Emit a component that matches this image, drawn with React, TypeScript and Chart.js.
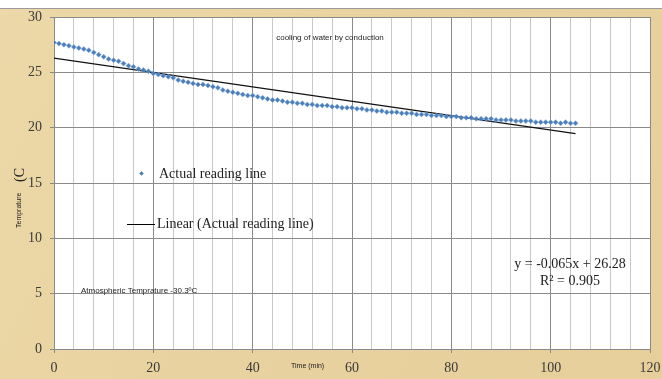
import React, { useEffect, useRef } from "react";
import { Chart, registerables } from "chart.js";

Chart.register(...registerables);

const timeMin: number[] = Array.from({ length: 106 }, (_, i) => i);
const tempC: number[] = [
  27.7, 27.6, 27.5, 27.4, 27.3, 27.2, 27.1, 27.0, 26.8, 26.6,
  26.4, 26.2, 26.1, 26.0, 25.8, 25.6, 25.5, 25.3, 25.2, 25.1,
  24.9, 24.8, 24.7, 24.6, 24.5, 24.3, 24.2, 24.1, 24.0, 23.9,
  23.9, 23.8, 23.7, 23.6, 23.4, 23.3, 23.2, 23.1, 23.0, 22.9,
  22.9, 22.8, 22.7, 22.6, 22.5, 22.5, 22.4, 22.3, 22.3, 22.2,
  22.2, 22.1, 22.1, 22.0, 22.0, 22.0, 21.9, 21.9, 21.8, 21.8,
  21.8, 21.7, 21.7, 21.6, 21.6, 21.5, 21.5, 21.4, 21.4, 21.4,
  21.3, 21.3, 21.3, 21.2, 21.2, 21.2, 21.1, 21.1, 21.1, 21.0,
  21.0, 21.0, 20.9, 20.9, 20.9, 20.8, 20.8, 20.8, 20.8, 20.7,
  20.7, 20.7, 20.7, 20.6, 20.6, 20.6, 20.6, 20.5, 20.5, 20.5,
  20.5, 20.5, 20.4, 20.5, 20.4, 20.4,
];
const trendSlope = -0.065;
const trendIntercept = 26.28;
const trendRange: number[] = [0, 105];
const xTickLabels: number[] = [0, 20, 40, 60, 80, 100, 120];
const yTickLabels: number[] = [0, 5, 10, 15, 20, 25, 30];

const chartTitle = "cooling of water by conduction";
const seriesName = "Actual reading line";
const trendName = "Linear (Actual reading line)";
const equationText = "y = -0.065x + 26.28";
const r2Text = "R\u00b2 = 0.905";
const atmText = "Atmospheric Temprature -30.3\u00baC";
const xTitle = "Time (min)";
const yTitleSmall = "Temprature";
const yTitleBig = "(C";

const BLUE = "#4a7ebb";

const decorPlugin = {
  id: "decor",
  beforeDraw(chart: any) {
    const { ctx, width, height, chartArea } = chart;
    ctx.save();
    const g = ctx.createLinearGradient(0, 0, width, height);
    g.addColorStop(0, "#ecd8a8");
    g.addColorStop(0.5, "#e8d29f");
    g.addColorStop(1, "#e6cf9b");
    ctx.fillStyle = g;
    ctx.fillRect(0, 0, width, height);
    ctx.fillStyle = "#ffffff";
    ctx.fillRect(0, 0, width, 8);
    ctx.strokeStyle = "#9a9a9a";
    ctx.lineWidth = 1;
    ctx.beginPath();
    ctx.moveTo(0, 8.5);
    ctx.lineTo(width, 8.5);
    ctx.stroke();
    ctx.fillStyle = "#ffffff";
    ctx.fillRect(chartArea.left, chartArea.top, chartArea.right - chartArea.left, chartArea.bottom - chartArea.top);
    ctx.restore();
  },
  afterDraw(chart: any) {
    const { ctx } = chart;
    ctx.save();
    ctx.fillStyle = "#222";
    ctx.textBaseline = "middle";
    // title
    ctx.font = '8px "Liberation Sans"';
    ctx.textAlign = "center";
    ctx.fillText(chartTitle, 330, 38);
    // legend
    ctx.fillStyle = BLUE;
    ctx.beginPath();
    const mx = 141.5, my = 173.5, r = 2.3;
    ctx.moveTo(mx, my - r);
    ctx.lineTo(mx + r, my);
    ctx.lineTo(mx, my + r);
    ctx.lineTo(mx - r, my);
    ctx.closePath();
    ctx.fill();
    ctx.fillStyle = "#222";
    ctx.font = '14px "Liberation Serif"';
    ctx.textAlign = "left";
    ctx.fillText(seriesName, 159, 174);
    ctx.strokeStyle = "#000";
    ctx.lineWidth = 1;
    ctx.beginPath();
    ctx.moveTo(127, 224.5);
    ctx.lineTo(155, 224.5);
    ctx.stroke();
    ctx.fillText(trendName, 157, 224);
    // equation
    ctx.textAlign = "center";
    ctx.fillText(equationText, 570, 264);
    ctx.fillText(r2Text, 570, 281);
    // atmospheric
    ctx.textAlign = "left";
    ctx.font = '8px "Liberation Sans"';
    ctx.fillText(atmText, 81, 291);
    // x title
    ctx.font = '7px "Liberation Sans"';
    ctx.fillText(xTitle, 291, 366);
    // y title
    ctx.translate(19, 228);
    ctx.rotate(-Math.PI / 2);
    ctx.font = '7px "Liberation Sans"';
    ctx.fillText(yTitleSmall, 0, 0);
    ctx.font = '14px "Liberation Serif"';
    ctx.fillText(yTitleBig, 46, 1);
    ctx.restore();
  },
};

export default function App() {
  const ref = useRef<HTMLCanvasElement | null>(null);
  useEffect(() => {
    if (!ref.current) return;
    const points = timeMin.map((x, i) => ({ x, y: tempC[i] }));
    const trend = trendRange.map((x) => ({ x, y: trendIntercept + trendSlope * x }));
    const chart = new Chart(ref.current, {
      type: "scatter",
      data: {
        datasets: [
          {
            label: trendName,
            data: trend,
            showLine: true,
            borderColor: "#111",
            borderWidth: 1.2,
            pointRadius: 0,
            order: 2,
          },
          {
            label: seriesName,
            data: points,
            pointStyle: "rectRot",
            pointRadius: 2.5,
            backgroundColor: BLUE,
            borderColor: "#7aa2d4",
            borderWidth: 0.6,
            order: 1,
          },
        ],
      },
      options: {
        responsive: false,
        animation: false,
        layout: { padding: { left: 0, top: 17, right: 12, bottom: 0 } },
        plugins: { legend: { display: false }, title: { display: false }, tooltip: { enabled: false } },
        scales: {
          x: {
            type: "linear",
            min: 0,
            max: 120,
            afterFit: (s: any) => { s.height = 30; s.paddingRight = 0; s.paddingLeft = 0; },
            afterBuildTicks: (s: any) => {
              const t: any[] = [];
              for (let v = 0; v <= 120; v += 4) t.push({ value: v });
              s.ticks = t;
            },
            ticks: {
              autoSkip: false,
              maxRotation: 0,
              padding: 7,
              color: "#3a3a3a",
              font: { family: "Liberation Serif", size: 14 },
              callback: (v: any) => (xTickLabels.includes(Number(v)) ? String(v) : ""),
            },
            grid: {
              color: (c: any) => (c.tick && c.tick.value % 20 === 0 ? "#8a8a8a" : "#c8c8c8"),
              tickColor: (c: any) => (c.tick && c.tick.value % 20 === 0 ? "#8a8a8a" : "rgba(0,0,0,0)"),
              tickLength: 4,
            },
            border: { color: "#8a8a8a" },
          },
          y: {
            min: 0,
            max: 30,
            afterFit: (s: any) => { s.width = 54; s.paddingTop = 0; s.paddingBottom = 0; },
            afterBuildTicks: (s: any) => {
              s.ticks = yTickLabels.map((v) => ({ value: v }));
            },
            ticks: {
              padding: 8,
              color: "#3a3a3a",
              font: { family: "Liberation Serif", size: 14 },
            },
            grid: { color: "#8a8a8a", tickColor: "#8a8a8a", tickLength: 4 },
            border: { color: "#8a8a8a" },
          },
        },
      },
      plugins: [decorPlugin],
    });
    return () => chart.destroy();
  }, []);
  return (
    <canvas
      ref={ref}
      width={662}
      height={379}
      style={{ position: "fixed", left: 0, top: 0, width: 662, height: 379, display: "block" }}
    />
  );
}
